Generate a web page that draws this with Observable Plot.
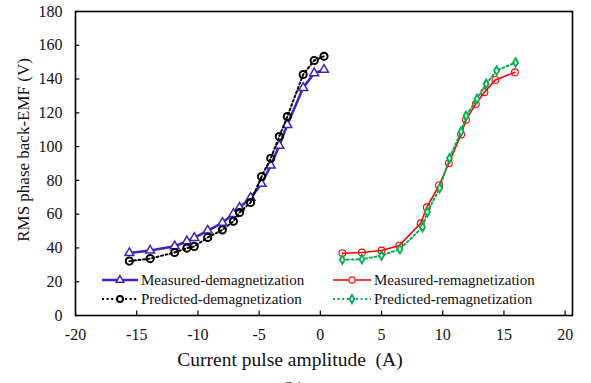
<!DOCTYPE html>
<html>
<head>
<meta charset="utf-8">
<script src="https://cdn.jsdelivr.net/npm/d3@7"></script>
<script src="https://cdn.jsdelivr.net/npm/@observablehq/plot@0.6"></script>
<style>
  html, body { margin: 0; padding: 0; background: #fff; }
  #chart { width: 591px; height: 383px; overflow: hidden; }
  svg { font-family: "Liberation Serif", "Times New Roman", serif; }
</style>
</head>
<body>
<div id="chart"></div>
<script>
// ---- data ----
const demagCurrent = [-15.6, -13.9, -11.9, -10.9, -10.3, -9.2, -8.0, -7.1, -6.6, -5.7, -4.8, -4.05, -3.35, -2.7, -1.4, -0.5, 0.3];
const measuredDemag = [37, 38.5, 41, 44, 46, 50.3, 54.9, 60.2, 63.8, 69.7, 78, 88.8, 100.6, 112.9, 134.8, 143.5, 145.5];
const predictedDemag = [32.2, 33.7, 37.3, 39.9, 40.9, 46.2, 50.7, 55.8, 61, 66.9, 82.3, 93.1, 106, 117.8, 142.7, 151, 153.5];

const remagCurrentMeasured = [1.8, 3.4, 5.0, 6.45, 8.2, 8.7, 9.7, 10.5, 11.5, 11.9, 12.7, 13.4, 14.3, 15.9];
const measuredRemag = [36.9, 37.3, 38.5, 41.4, 54.6, 64.1, 77, 90.2, 107.2, 115.9, 125.3, 132.2, 139.5, 144];
const remagCurrentPredicted = [1.8, 3.4, 5.0, 6.5, 8.35, 8.75, 9.75, 10.55, 11.5, 11.9, 12.8, 13.55, 14.4, 15.95];
const predictedRemag = [33, 33.3, 35.5, 39.3, 52.3, 61.2, 75.4, 93.1, 108.9, 118.2, 128.3, 137.2, 145, 149.8];

const xTicks = [-20, -15, -10, -5, 0, 5, 10, 15, 20];
const yTicks = [0, 20, 40, 60, 80, 100, 120, 140, 160, 180];

const seriesNames = ["Measured-demagnetization", "Predicted-demagnetization", "Measured-remagnetization", "Predicted-remagnetization"];
const xLabel = "Current pulse amplitude\u00a0 (A)";
const yLabel = "RMS phase back-EMF (V)";
const caption = "(b)";

// ---- tables ----
const zip = (xs, ys) => xs.map((x, i) => ({x, y: ys[i]}));
const mDemag = zip(demagCurrent, measuredDemag);
const pDemag = zip(demagCurrent, predictedDemag);
const mRemag = zip(remagCurrentMeasured, measuredRemag);
const pRemag = zip(remagCurrentPredicted, predictedRemag);

const PURPLE = "#4422c0", RED = "#ff0000", GREEN = "#00b050", BLACK = "#000";

const plot = Plot.plot({
  width: 591,
  height: 383,
  marginLeft: 75,
  marginRight: 19,
  marginTop: 11,
  marginBottom: 68,
  style: {fontFamily: "'Liberation Serif', 'Times New Roman', serif", background: "#fff"},
  x: {domain: [-20, 20.6], ticks: xTicks},
  y: {domain: [0, 180], ticks: yTicks},
  marks: [
    Plot.axisX(xTicks, {tickSize: 0, tickPadding: 13, fontSize: 16, fill: "#111", label: null, tickFormat: d => d < 0 ? "-" + Math.abs(d) : String(d)}),
    Plot.axisY(yTicks, {tickSize: 0, tickPadding: 13, fontSize: 16, fill: "#111", label: null}),
    Plot.ruleX(xTicks, {y1: 0, y2: 2.6, stroke: BLACK, strokeWidth: 1.2}),
    Plot.ruleY(yTicks, {x1: -20, x2: -19.65, stroke: BLACK, strokeWidth: 1.2}),
    Plot.frame({stroke: BLACK, strokeWidth: 1.6}),
    // measured demag (purple, triangles)
    Plot.line(mDemag, {x: "x", y: "y", stroke: PURPLE, strokeWidth: 2.6}),
    Plot.dot(mDemag, {x: "x", y: "y", symbol: "triangle", r: 3.3, stroke: PURPLE, strokeWidth: 1.5, fill: "#fff"}),
    // predicted demag (black dotted, open circles)
    Plot.line(pDemag, {x: "x", y: "y", stroke: BLACK, strokeWidth: 2, strokeDasharray: "2,2.6"}),
    Plot.dot(pDemag, {x: "x", y: "y", r: 3.6, stroke: BLACK, strokeWidth: 2, fill: "none"}),
    // remag
    Plot.line(mRemag, {x: "x", y: "y", stroke: RED, strokeWidth: 1.6}),
    Plot.dot(mRemag, {x: "x", y: "y", r: 3.4, stroke: RED, strokeWidth: 1.1, fill: "none"}),
    Plot.line(pRemag, {x: "x", y: "y", stroke: GREEN, strokeWidth: 2, strokeDasharray: "2,2.6"}),
    Plot.dot(pRemag, {x: "x", y: "y", symbol: "diamond", r: 2.6, stroke: GREEN, strokeWidth: 1.8, fill: "#e8f8ee"})
  ]
});

// ---- legend and labels ----
const svg = d3.select(plot);
const legendItems = [
  {name: seriesNames[0], color: PURPLE, dash: null, width: 2.4, sym: d3.symbolTriangle, size: 26, fill: "#fff", sw: 1.5, col: 0, row: 0},
  {name: seriesNames[1], color: BLACK, dash: "2,2.6", width: 2, sym: d3.symbolCircle, size: 28, fill: "#fff", sw: 2, col: 0, row: 1},
  {name: seriesNames[2], color: RED, dash: null, width: 1.6, sym: d3.symbolCircle, size: 30, fill: "#fff", sw: 1.1, col: 1, row: 0},
  {name: seriesNames[3], color: GREEN, dash: "2,2.6", width: 2, sym: d3.symbolDiamond, size: 20, fill: "#e8f8ee", sw: 1.8, col: 1, row: 1}
];
const colX = [[102, 138, 141], [333, 371, 374]];
const rowY = [280, 299];
const lg = svg.append("g").attr("text-anchor", "start");
legendItems.forEach(it => {
  const [x1, x2, tx] = colX[it.col];
  const y = rowY[it.row];
  lg.append("line").attr("x1", x1).attr("x2", x2).attr("y1", y).attr("y2", y)
    .attr("stroke", it.color).attr("stroke-width", it.width)
    .attr("stroke-dasharray", it.dash);
  lg.append("path").attr("d", d3.symbol(it.sym, it.size)())
    .attr("transform", `translate(${(x1 + x2) / 2},${y})`)
    .attr("stroke", it.color).attr("stroke-width", it.sw).attr("fill", it.fill);
  lg.append("text").attr("x", tx).attr("y", y + 5).attr("font-size", 15)
    .attr("text-anchor", "start").attr("fill", "#111").text(it.name);
});
svg.append("text").attr("x", 290).attr("y", 366).attr("text-anchor", "middle")
  .attr("font-size", 19.5).attr("fill", "#111").text(xLabel);
svg.append("text").attr("transform", "translate(29,150) rotate(-90)").attr("text-anchor", "middle")
  .attr("font-size", 17).attr("fill", "#111").text(yLabel);
svg.append("text").attr("x", 293).attr("y", 395).attr("text-anchor", "middle")
  .attr("font-size", 19).attr("fill", "#111").text(caption);

document.getElementById("chart").appendChild(plot);
</script>
</body>
</html>
